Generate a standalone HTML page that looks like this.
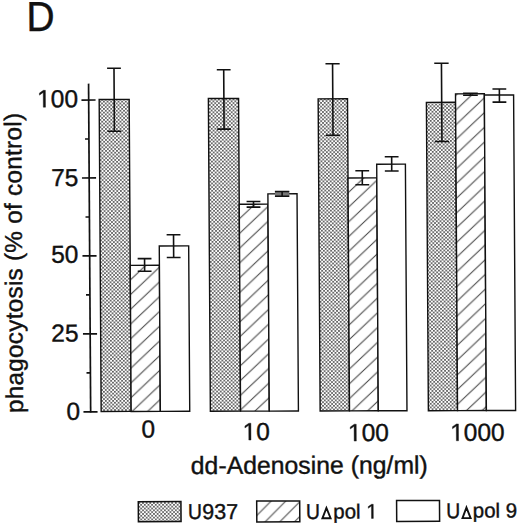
<!DOCTYPE html>
<html><head><meta charset="utf-8"><style>
html,body{margin:0;padding:0;background:#fff;width:520px;height:527px;overflow:hidden}
svg{display:block}
text{font-family:"Liberation Sans",sans-serif;fill:#111;stroke:#111;stroke-width:0.4px}
.o{fill:none;stroke:none}
</style></head><body>
<svg width="520" height="527" viewBox="0 0 520 527">
<defs>
<path id="one" d="M515 0V1237L197 1010V1180L530 1409H696V0Z" vector-effect="non-scaling-stroke"/>
<pattern id="dots" width="3.65" height="3.65" patternUnits="userSpaceOnUse">
<rect width="3.65" height="3.65" fill="#fff"/>
<circle cx="0.9" cy="0.9" r="0.79" fill="#0c0c0c"/>
<circle cx="2.725" cy="2.725" r="0.79" fill="#0c0c0c"/>
</pattern>
<pattern id="hatch" width="14.7" height="14.7" patternUnits="userSpaceOnUse">
<rect width="14.7" height="14.7" fill="#fff"/>
<path d="M-1,15.7 L15.7,-1 M-8.35,8.35 L8.35,-8.35 M6.35,23.05 L23.05,6.35" stroke="#444" stroke-width="1.0"/>
</pattern>
<pattern id="h1" href="#hatch" patternTransform="translate(5.47,0) skewY(3.43)"/>
<pattern id="h2" href="#hatch" patternTransform="translate(3.25,0) skewY(3.43)"/>
<pattern id="h3" href="#hatch" patternTransform="translate(6.55,0) skewY(3.43)"/>
<pattern id="h4" href="#hatch" patternTransform="translate(11.46,0) skewY(3.43)"/>
<pattern id="hl" href="#hatch" patternTransform="translate(6.24,0)"/>
</defs>
<g transform="matrix(1 -0.0025 0.0064 1 -1.6640 0.6500)">
<text transform="translate(28.06,30.43) scale(0.93,1)" font-size="42" style="stroke-width:0.4px">D</text>
<g stroke="#111" stroke-width="1.7" fill="none">
<line x1="89.7" y1="83.2" x2="89.7" y2="412.07"/>
<line x1="82.5" y1="99.59" x2="96.6" y2="99.59"/>
<line x1="82.5" y1="177.56" x2="96.6" y2="177.56"/>
<line x1="82.5" y1="255.53" x2="96.6" y2="255.53"/>
<line x1="82.5" y1="333.5" x2="96.6" y2="333.5"/>
<line x1="82.5" y1="411.47" x2="96.6" y2="411.47"/>
<line x1="85.8" y1="138.57" x2="89.7" y2="138.57"/>
<line x1="85.8" y1="216.55" x2="89.7" y2="216.55"/>
<line x1="85.8" y1="294.51" x2="89.7" y2="294.51"/>
<line x1="85.8" y1="372.49" x2="89.7" y2="372.49"/>
</g>
<g font-size="24.5" text-anchor="end">
<text x="79.05" y="106.66" id="t1"><tspan class="o">1</tspan>00</text>
<text x="78.95" y="185.46">75</text>
<text x="78.39" y="262.26">50</text>
<text x="78.04" y="341.02">25</text>
<text x="79.23" y="419.16">0</text>
</g>
<text transform="translate(22.08,412.47) rotate(-90)" font-size="24.3" textLength="300.1" lengthAdjust="spacing">phagocytosis (% of control)</text>
<g stroke="#111" stroke-width="1.4">
<rect x="100.2" y="99.04" width="30" height="312.06" fill="url(#dots)"/>
<rect x="130.2" y="265.01" width="29.17" height="146.09" fill="url(#h1)"/>
<rect x="159.37" y="245.69" width="29.4" height="165.41" fill="#fff"/>
<rect x="209.4" y="98.41" width="30.2" height="312.69" fill="url(#dots)"/>
<rect x="239.6" y="204.18" width="28.72" height="206.92" fill="url(#h2)"/>
<rect x="268.32" y="193.86" width="29.13" height="217.24" fill="#fff"/>
<rect x="319.18" y="98.98" width="29.35" height="312.12" fill="url(#dots)"/>
<rect x="348.53" y="178.16" width="28.79" height="232.94" fill="url(#h3)"/>
<rect x="377.32" y="164.53" width="28.69" height="246.57" fill="#fff"/>
<rect x="427.4" y="102.8" width="29.17" height="308.3" fill="url(#dots)"/>
<rect x="456.57" y="94.35" width="28.83" height="316.75" fill="url(#h4)"/>
<rect x="485.4" y="95.6" width="29.25" height="315.5" fill="#fff"/>
</g>
<rect x="275.4" y="191.6" width="14.3" height="4.6" fill="#777"/>
<g stroke="#111" stroke-width="1.6" fill="none">
<path d="M115.22,67.94V130.84M108.32,67.94H122.12M108.32,130.84H122.12"/>
<path d="M144.57,258.31V271.01M137.67,258.31H151.47M137.67,271.01H151.47"/>
<path d="M173.69,234.53V257.28M166.79,234.53H180.59M166.79,257.28H180.59"/>
<path d="M224.92,69.71V129.01M218.02,69.71H231.82M218.02,129.01H231.82"/>
<path d="M253.86,201.48V207.08M246.96,201.48H260.76M246.96,207.08H260.76"/>
<path d="M282.55,191.56V196.26M275.35,191.56H289.75M275.35,196.26H289.75"/>
<path d="M333.82,63.88V135.48M326.72,63.88H340.92M326.72,135.48H340.92"/>
<path d="M362.82,171.06V185.06M355.92,171.06H369.72M355.92,185.06H369.72"/>
<path d="M392.31,157.13V171.33M385.41,157.13H399.21M385.41,171.33H399.21"/>
<path d="M442.7,63.75V141.95M435.5,63.75H449.9M435.5,141.95H449.9"/>
<path d="M471.5,93.83V95.73M464.15,93.83H478.85M464.15,95.73H478.85"/>
<path d="M500.45,89.6V102.7M493.55,89.6H507.35M493.55,102.7H507.35"/>
</g>
<g font-size="24.5" text-anchor="middle">
<text x="147.25" y="437.16">0</text>
<text x="255.15" y="440.03" id="t2"><tspan class="o">1</tspan>0</text>
<text x="367.31" y="441.32" id="t3"><tspan class="o">1</tspan>00</text>
<text x="476.32" y="441.28" id="t4"><tspan class="o">1</tspan>000</text>
</g>
<text x="307.98" y="473.79" font-size="24.8" text-anchor="middle">dd-Adenosine (ng/ml)</text>
<g fill="#111" stroke="#111" stroke-width="0.4">
<use href="#one" transform="translate(38.144,106.660) scale(0.011963,-0.011963)"/>
<use href="#one" transform="translate(241.510,440.030) scale(0.011963,-0.011963)"/>
<use href="#one" transform="translate(346.857,441.320) scale(0.011963,-0.011963)"/>
<use href="#one" transform="translate(449.055,441.280) scale(0.011963,-0.011963)"/>
<use href="#one" transform="translate(364.712,518.680) scale(0.010010,-0.010010)"/>
</g>
<g stroke="#111" stroke-width="1.5">
<rect x="136.74" y="501.35" width="42.65" height="20.05" fill="url(#dots)"/>
<rect x="255.14" y="501" width="43" height="20.9" fill="url(#hl)"/>
<rect x="395.04" y="500.95" width="42.9" height="20.8" fill="#fff"/>
</g>
<g font-size="21.5">
<text transform="translate(186.45,518.93) scale(0.9,1)">U</text>
<text transform="translate(304.45,519.01) scale(0.9,1)">U</text>
<text transform="translate(444.56,518.78) scale(0.9,1)">U</text>
<text x="200.65" y="518.87">937</text>
</g>
<g font-size="20.5">
<text x="331.65" y="518.68" id="t5">pol <tspan class="o">1</tspan></text>
<text x="471.16" y="518.06">pol 9</text>
</g>
<path d="M324.85,508.11 L320.75,518.43 L328.95,518.4 Z M464.85,507.99 L460.86,518.61 L468.96,518.57 Z" fill="none" stroke="#111" stroke-width="1.9" stroke-linejoin="miter"/>
</g>
</svg>
</body></html>
